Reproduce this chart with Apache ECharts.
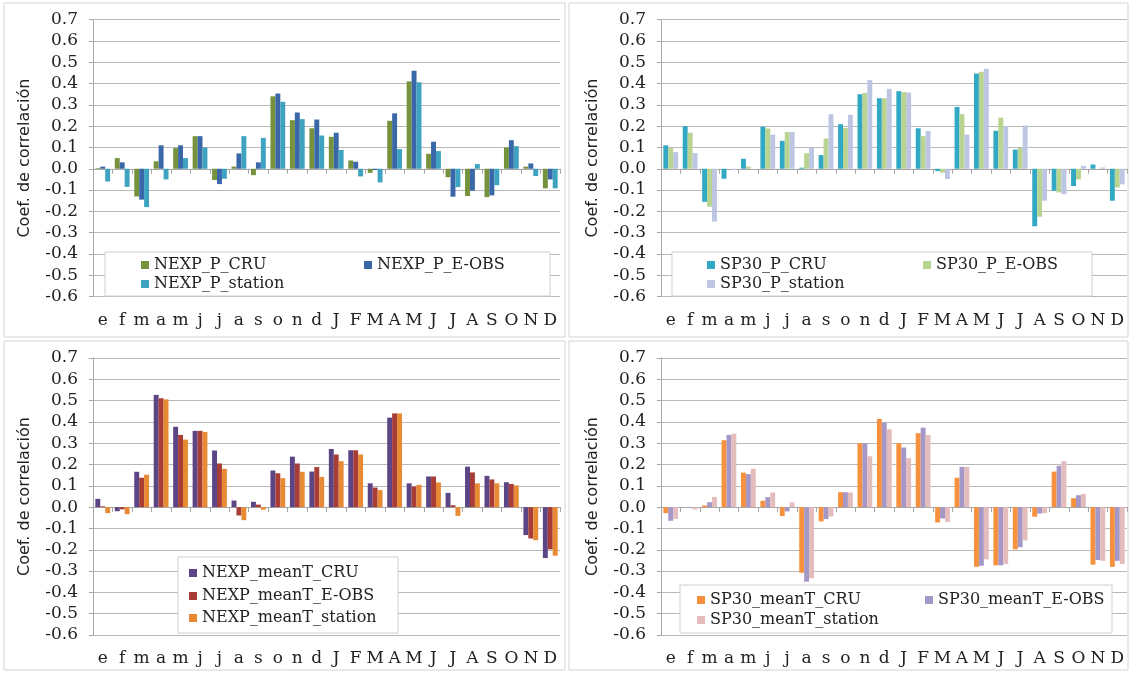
<!DOCTYPE html>
<html lang="es">
<head>
  <meta charset="UTF-8">
  <title>Coef. de correlación</title>
  <script src="https://cdn.jsdelivr.net/npm/echarts@6/dist/echarts.min.js"></script>
  <style>
    body { margin: 0; padding: 0; background: #fff; }
    #chart { width: 1131px; height: 673px; }
  </style>
</head>
<body>
  <div id="chart"></div>
  <script>
    // categorias (meses)
    var months = ['e','f','m','a','m','j','j','a','s','o','n','d','J','F','M','A','M','J','J','A','S','O','N','D'];

    // panel 1: NEXP precipitacion
    var nexpP_CRU     = [0.003, 0.05, -0.13, 0.035, 0.097, 0.153, -0.053, 0.01, -0.03, 0.34, 0.228, 0.19, 0.15, 0.039, -0.019, 0.225, 0.41, 0.07, -0.04, -0.128, -0.133, 0.1, 0.01, -0.092];
    var nexpP_EOBS    = [0.01, 0.03, -0.145, 0.11, 0.11, 0.153, -0.072, 0.072, 0.03, 0.353, 0.264, 0.231, 0.169, 0.033, -0.006, 0.26, 0.46, 0.127, -0.131, -0.103, -0.125, 0.134, 0.025, -0.05];
    var nexpP_station = [-0.06, -0.085, -0.18, -0.05, 0.05, 0.1, -0.047, 0.153, 0.145, 0.314, 0.233, 0.156, 0.088, -0.036, -0.064, 0.092, 0.406, 0.083, -0.086, 0.022, -0.077, 0.106, -0.034, -0.092];

    // panel 2: SP30 precipitacion
    var sp30P_CRU     = [0.11, 0.2, -0.155, -0.047, 0.047, 0.197, 0.131, 0.005, 0.064, 0.209, 0.35, 0.331, 0.364, 0.19, -0.011, 0.29, 0.447, 0.178, 0.09, -0.27, -0.103, -0.081, 0.02, -0.15];
    var sp30P_EOBS    = [0.097, 0.169, -0.178, 0, 0.01, 0.189, 0.172, 0.073, 0.142, 0.192, 0.356, 0.331, 0.36, 0.153, -0.019, 0.256, 0.455, 0.24, 0.097, -0.225, -0.111, -0.05, 0, -0.088];
    var sp30P_station = [0.078, 0.073, -0.248, -0.006, 0, 0.16, 0.172, 0.098, 0.256, 0.253, 0.416, 0.375, 0.358, 0.177, -0.048, 0.16, 0.469, 0.2, 0.203, -0.15, -0.119, 0.014, 0.006, -0.073];

    // panel 3: NEXP temperatura media
    var nexpT_CRU     = [0.039, -0.019, 0.166, 0.527, 0.377, 0.358, 0.266, 0.031, 0.025, 0.172, 0.237, 0.167, 0.273, 0.267, 0.112, 0.42, 0.112, 0.144, 0.067, 0.19, 0.147, 0.117, -0.131, -0.239];
    var nexpT_EOBS    = [0.004, -0.01, 0.138, 0.511, 0.339, 0.358, 0.205, -0.039, 0.012, 0.159, 0.205, 0.188, 0.247, 0.267, 0.092, 0.44, 0.097, 0.144, 0.009, 0.163, 0.13, 0.109, -0.147, -0.198];
    var nexpT_station = [-0.028, -0.033, 0.152, 0.506, 0.317, 0.353, 0.18, -0.061, -0.012, 0.136, 0.166, 0.142, 0.216, 0.247, 0.08, 0.44, 0.105, 0.116, -0.041, 0.112, 0.112, 0.102, -0.155, -0.228];

    // panel 4: SP30 temperatura media
    var sp30T_CRU     = [-0.028, 0, 0.008, 0.314, 0.162, 0.03, -0.042, -0.308, -0.067, 0.07, 0.3, 0.414, 0.3, 0.347, -0.072, 0.138, -0.28, -0.273, -0.198, -0.045, 0.167, 0.042, -0.27, -0.28];
    var sp30T_EOBS    = [-0.064, -0.003, 0.023, 0.339, 0.155, 0.047, -0.02, -0.35, -0.056, 0.07, 0.3, 0.398, 0.28, 0.373, -0.053, 0.189, -0.275, -0.273, -0.188, -0.03, 0.194, 0.056, -0.248, -0.252];
    var sp30T_station = [-0.055, -0.011, 0.048, 0.345, 0.18, 0.069, 0.022, -0.334, -0.044, 0.069, 0.239, 0.366, 0.23, 0.339, -0.069, 0.189, -0.245, -0.267, -0.156, -0.028, 0.216, 0.062, -0.252, -0.267];

    var panels = [
      { names: ['NEXP_P_CRU', 'NEXP_P_E-OBS', 'NEXP_P_station'],
        data: [nexpP_CRU, nexpP_EOBS, nexpP_station],
        colors: ['#76923c', '#3a67a8', '#3ea3c0'] },
      { names: ['SP30_P_CRU', 'SP30_P_E-OBS', 'SP30_P_station'],
        data: [sp30P_CRU, sp30P_EOBS, sp30P_station],
        colors: ['#31a9c4', '#b9d391', '#bcc6e2'] },
      { names: ['NEXP_meanT_CRU', 'NEXP_meanT_E-OBS', 'NEXP_meanT_station'],
        data: [nexpT_CRU, nexpT_EOBS, nexpT_station],
        colors: ['#5b4585', '#a83c36', '#e88a34'] },
      { names: ['SP30_meanT_CRU', 'SP30_meanT_E-OBS', 'SP30_meanT_station'],
        data: [sp30T_CRU, sp30T_EOBS, sp30T_station],
        colors: ['#f7913d', '#a597c6', '#e4bcbc'] }
    ];

    // posicion de cada grid y de las leyendas
    var grids = [
      { left: 93,  top: 19.6, width: 467, height: 277, outerBoundsMode: 'none' },
      { left: 661, top: 19.6, width: 466, height: 277, outerBoundsMode: 'none' },
      { left: 93,  top: 358,  width: 467, height: 277, outerBoundsMode: 'none' },
      { left: 661, top: 358,  width: 466, height: 277, outerBoundsMode: 'none' }
    ];
    var legendPos = [
      [[141, 256], [364, 256], [141, 275]],
      [[707, 256], [923, 256], [707, 275]],
      [[189, 564], [189, 587], [189, 609]],
      [[697, 591], [925, 591], [697, 611]]
    ];
    var legendBoxes = [
      [105, 252, 445, 44],
      [672, 252, 420, 44],
      [178, 557, 220, 76],
      [680, 585, 432, 48]
    ];
    var frames = [
      [4, 3, 561, 334],
      [569, 3, 559, 334],
      [4, 341, 561, 329],
      [569, 341, 559, 329]
    ];

    var serif = 'DejaVu Serif';
    var gridLine = '#b8b8b8';
    var axisGrey = '#a6a6a6';

    var option = {
      animation: false,
      backgroundColor: '#fff',
      grid: grids,
      xAxis: [],
      yAxis: [],
      series: [],
      legend: [],
      graphic: []
    };

    frames.forEach(function (f) {
      option.graphic.push({
        type: 'rect', z: -10,
        shape: { x: f[0], y: f[1], width: f[2], height: f[3] },
        style: { fill: 'none', stroke: '#d4d4d4', lineWidth: 1 }
      });
    });
    legendBoxes.forEach(function (b) {
      option.graphic.push({
        type: 'rect', z: 50,
        shape: { x: b[0], y: b[1], width: b[2], height: b[3] },
        style: { fill: '#fff', stroke: '#cfcfcf', lineWidth: 1 }
      });
    });

    panels.forEach(function (p, gi) {
      // eje con etiquetas (abajo)
      option.xAxis.push({
        type: 'category',
        gridIndex: gi,
        position: 'bottom',
        data: months,
        axisLine: { show: false, onZero: false },
        axisTick: { show: false },
        axisLabel: { margin: 15, fontFamily: serif, fontSize: 17, color: '#222', interval: 0 },
        splitLine: { show: false }
      });
      option.yAxis.push({
        type: 'value',
        gridIndex: gi,
        min: -0.6,
        max: 0.7,
        interval: 0.1,
        name: 'Coef. de correlación',
        nameLocation: 'middle',
        nameGap: 60,
        nameTextStyle: { fontFamily: 'DejaVu Sans', fontSize: 16, color: '#222' },
        axisLine: { show: true, lineStyle: { color: axisGrey } },
        axisTick: { show: true, length: 4, lineStyle: { color: axisGrey } },
        axisLabel: {
          margin: 15, fontFamily: serif, fontSize: 17, color: '#222',
          formatter: function (v) {
            var s = (Math.round(v * 10) / 10).toFixed(1);
            return s === '-0.0' ? '0.0' : s;
          }
        },
        splitLine: { show: true, lineStyle: { color: gridLine, width: 1.2 } }
      });
      p.names.forEach(function (name, si) {
        option.series.push({
          type: 'bar',
          name: name,
          xAxisIndex: gi,
          yAxisIndex: gi,
          data: p.data[si],
          barGap: '0%',
          barCategoryGap: '24%',
          itemStyle: { color: p.colors[si] }
        });
        var pos = legendPos[gi][si];
        option.legend.push({
          data: [name],
          left: pos[0],
          top: pos[1],
          padding: 0,
          z: 60,
          icon: 'rect',
          itemWidth: 8,
          itemHeight: 8,
          selectedMode: false,
          textStyle: { fontFamily: serif, fontSize: 16, color: '#222', lineHeight: 18 }
        });
      });
    });

    // ejes en cero (linea y marcas), uno por grid
    panels.forEach(function (p, gi) {
      option.xAxis.push({
        type: 'category',
        gridIndex: gi,
        position: 'bottom',
        data: months,
        axisLine: { show: true, onZero: true, lineStyle: { color: axisGrey } },
        axisTick: { show: true, length: 5, lineStyle: { color: axisGrey } },
        axisLabel: { show: false },
        splitLine: { show: false }
      });
    });

    var myChart = echarts.init(document.getElementById('chart'));
    myChart.setOption(option);
  </script>
</body>
</html>
